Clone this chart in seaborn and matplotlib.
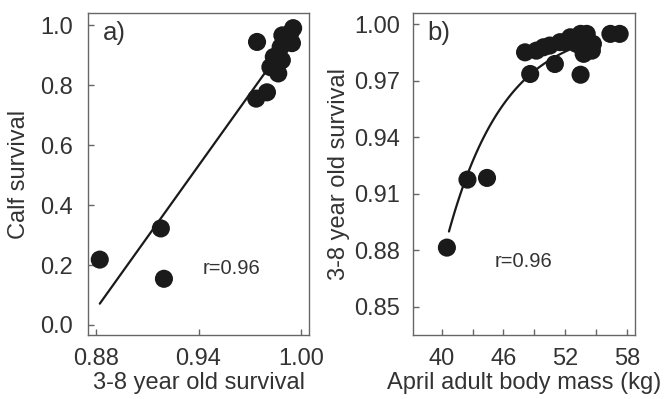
import numpy as np
import pandas as pd
import matplotlib
matplotlib.use("Agg")
import matplotlib.pyplot as plt
import seaborn as sns

# Panel a data
a_x = [0.8823, 0.918, 0.9198, 0.9742, 0.9737, 0.980, 0.9953, 0.9936, 0.989, 0.988,
       0.984, 0.9887, 0.982, 0.9866, 0.9946]
a_y = [0.218, 0.322, 0.154, 0.944, 0.755, 0.776, 0.99, 0.973, 0.966, 0.927,
       0.894, 0.883, 0.86, 0.839, 0.94]
fit_a_x = [0.8823, 0.995]
fit_a_y = [0.071, 0.970]

# Panel b data
b_x = [40.5, 42.5, 44.4, 48.6, 48.1, 49.2, 51.0, 50.5, 51.5, 53.5, 52.5, 53.5,
       54.1, 54.7, 53.8, 54.6, 53.1, 56.4, 57.3, 52.0, 49.9]
b_y = [0.8815, 0.9176, 0.9185, 0.9737, 0.9852, 0.9861, 0.979, 0.9888, 0.9906, 0.9733,
       0.9932, 0.995, 0.995, 0.9897, 0.9844, 0.9861, 0.9897, 0.995, 0.995, 0.9906, 0.9879]
# saturating fit: y = ymax - b*exp(-c*(x-40))
fit_b_params = dict(ymax=1.0, b=0.1247, c=0.1797, x0=40.0, xmin=40.7, xmax=53.5)

a_xticks = [0.88, 0.94, 1.00]
a_yticks = [0.0, 0.2, 0.4, 0.6, 0.8, 1.0]
b_xticks = [40, 43, 46, 49, 52, 55, 58]
b_xlabels = ["40", "", "46", "", "52", "", "58"]
b_yticks = [0.85, 0.88, 0.91, 0.94, 0.97, 1.00]

sns.set_theme(style="ticks")
plt.rcParams['font.family'] = ['Liberation Sans', 'DejaVu Sans']
txt = "#333333"
edge = "#666666"
fs_tick = 17
fs_label = 17

fig = plt.figure(figsize=(6.65, 3.99), dpi=100)
ax1 = fig.add_axes([0.132, 0.160, 0.333, 0.807])
ax2 = fig.add_axes([0.621, 0.160, 0.334, 0.807])

dfa = pd.DataFrame({"x": a_x, "y": a_y})
sns.scatterplot(data=dfa, x="x", y="y", ax=ax1, s=170, color="#1a1a1a",
                edgecolor="none", zorder=3)
sns.lineplot(x=fit_a_x, y=fit_a_y, ax=ax1, color="#1a1a1a", lw=1.6, zorder=2)

dfb = pd.DataFrame({"x": b_x, "y": b_y})
sns.scatterplot(data=dfb, x="x", y="y", ax=ax2, s=170, color="#1a1a1a",
                edgecolor="none", zorder=3)
p = fit_b_params
fx = np.linspace(p["xmin"], p["xmax"], 100)
fy = p["ymax"] - p["b"] * np.exp(-p["c"] * (fx - p["x0"]))
sns.lineplot(x=fx, y=fy, ax=ax2, color="#1a1a1a", lw=1.6, zorder=2)

ax1.set_xlim(0.8753, 1.0047)
ax1.set_ylim(-0.034, 1.04)
ax1.set_xticks(a_xticks)
ax1.set_xticklabels([f"{v:.2f}" for v in a_xticks])
ax1.set_yticks(a_yticks)
ax1.set_yticklabels([f"{v:.1f}" for v in a_yticks])
ax1.set_xlabel("3-8 year old survival", fontsize=fs_label, color=txt, labelpad=2)
ax1.set_ylabel("Calf survival", fontsize=fs_label, color=txt, labelpad=7)
ax1.text(0.9594, 0.188, "r=0.96", fontsize=14.5, color=txt, ha="center", va="center")
ax1.text(0.07, 0.975, "a)", transform=ax1.transAxes, fontsize=18.5, color=txt,
         ha="left", va="top")

ax2.set_xlim(37.2, 58.8)
ax2.set_ylim(0.835, 1.006)
ax2.set_xticks(b_xticks)
ax2.set_xticklabels(b_xlabels)
ax2.set_yticks(b_yticks)
ax2.set_yticklabels([f"{v:.2f}" for v in b_yticks])
ax2.set_xlabel("April adult body mass (kg)", fontsize=fs_label, color=txt, labelpad=2)
ax2.set_ylabel("3-8 year old survival", fontsize=fs_label, color=txt, labelpad=3)
ax2.text(47.94, 0.8743, "r=0.96", fontsize=14.5, color=txt, ha="center", va="center")
ax2.text(0.065, 0.975, "b)", transform=ax2.transAxes, fontsize=18.5, color=txt,
         ha="left", va="top")

for ax in (ax1, ax2):
    for s in ax.spines.values():
        s.set_color(edge)
        s.set_linewidth(1.0)
    ax.tick_params(direction="in", length=4, width=1.0, color=edge,
                   labelsize=fs_tick, labelcolor=txt)
    ax.tick_params(axis="x", pad=9)
ax1.tick_params(axis="y", pad=11)
ax2.tick_params(axis="y", pad=9)

fig.savefig("out.png", dpi=100)
